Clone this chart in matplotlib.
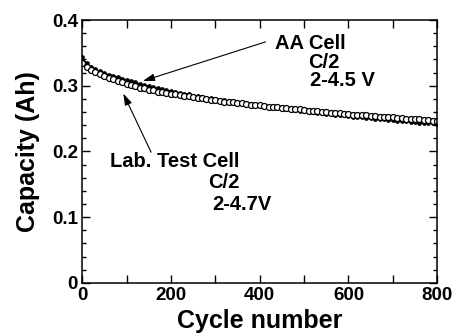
import matplotlib
matplotlib.use("Agg")
import matplotlib.pyplot as plt
from matplotlib.ticker import MultipleLocator, FuncFormatter

plt.rcParams['font.family'] = ['Liberation Sans', 'DejaVu Sans']
plt.rcParams['font.weight'] = 'bold'

cycles = list(range(0, 801, 10))

# AA cell, C/2, 2-4.5 V (filled markers)
aa_cell = [0.343, 0.334, 0.329, 0.325, 0.322, 0.319, 0.317, 0.315, 0.313, 0.311,
           0.309, 0.307, 0.305, 0.303, 0.301, 0.300, 0.298, 0.296, 0.295, 0.293,
           0.292, 0.291, 0.289, 0.288, 0.287, 0.285, 0.284, 0.283, 0.282, 0.281,
           0.280, 0.279, 0.278, 0.277, 0.276, 0.275, 0.274, 0.273, 0.272, 0.271,
           0.270, 0.269, 0.268, 0.267, 0.266, 0.265, 0.265, 0.264, 0.263, 0.262,
           0.261, 0.260, 0.260, 0.259, 0.258, 0.257, 0.257, 0.256, 0.255, 0.255,
           0.254, 0.253, 0.253, 0.252, 0.251, 0.251, 0.250, 0.249, 0.249, 0.248,
           0.248, 0.247, 0.246, 0.246, 0.245, 0.245, 0.244, 0.244, 0.243, 0.243,
           0.242]

# Lab. test cell, C/2, 2-4.7 V (open circles)
lab_cell = [0.334, 0.328, 0.324, 0.321, 0.318, 0.315, 0.312, 0.310, 0.307, 0.305,
            0.303, 0.301, 0.299, 0.297, 0.296, 0.294, 0.293, 0.291, 0.290, 0.289,
            0.288, 0.287, 0.286, 0.285, 0.284, 0.283, 0.282, 0.281, 0.280, 0.279,
            0.278, 0.277, 0.276, 0.275, 0.275, 0.274, 0.273, 0.272, 0.271, 0.271,
            0.270, 0.269, 0.268, 0.268, 0.267, 0.266, 0.266, 0.265, 0.264, 0.264,
            0.263, 0.262, 0.262, 0.261, 0.260, 0.260, 0.259, 0.259, 0.258, 0.257,
            0.257, 0.256, 0.256, 0.255, 0.255, 0.254, 0.254, 0.253, 0.253, 0.252,
            0.252, 0.251, 0.251, 0.250, 0.250, 0.249, 0.249, 0.248, 0.248, 0.247,
            0.247]

fig = plt.figure(figsize=(4.54, 3.34), dpi=100)
ax = fig.add_axes([0.181, 0.153, 0.782, 0.787])

ax.plot(cycles, aa_cell, "-o", color="black", markersize=2.4, linewidth=0.9)
ax.plot(cycles, lab_cell, "o", color="black", markerfacecolor="white",
        markersize=4.3, markeredgewidth=0.9)

ax.set_xlim(0, 800)
ax.set_ylim(0, 0.4)
ax.xaxis.set_major_locator(MultipleLocator(100))
ax.xaxis.set_major_formatter(FuncFormatter(lambda v, p: "%d" % v if int(round(v)) % 200 == 0 else ""))
ax.yaxis.set_major_locator(MultipleLocator(0.1))
ax.yaxis.set_minor_locator(MultipleLocator(0.02))
ax.yaxis.set_major_formatter(FuncFormatter(lambda v, p: "0" if abs(v) < 1e-9 else "%.1f" % v))
ax.tick_params(which="both", direction="in", top=True, right=True, width=1)
ax.tick_params(which="major", length=6, labelsize=13.5, pad=3)
ax.tick_params(which="minor", length=3)
for s in ax.spines.values():
    s.set_linewidth(1.1)

ax.set_xlabel("Cycle number", fontsize=18, fontweight="bold", labelpad=3.5)
ax.set_ylabel("Capacity (Ah)", fontsize=18, fontweight="bold", labelpad=9)

arrow = dict(arrowstyle="-|>,head_length=0.7,head_width=0.22", color="black", lw=0.8)
ax.annotate("", xy=(131, 0.306), xytext=(419, 0.368), arrowprops=arrow)
ax.annotate("", xy=(90, 0.292), xytext=(158, 0.195), arrowprops=arrow)

ax.text(435, 0.364, "AA Cell", fontsize=14.5, fontweight="bold", va="center")
ax.text(509, 0.336, "C/2", fontsize=14.5, fontweight="bold", va="center")
ax.text(514, 0.308, "2-4.5 V", fontsize=14.5, fontweight="bold", va="center")
ax.text(63, 0.184, "Lab. Test Cell", fontsize=14.5, fontweight="bold", va="center")
ax.text(284, 0.153, "C/2", fontsize=14.5, fontweight="bold", va="center")
ax.text(293, 0.119, "2-4.7V", fontsize=14.5, fontweight="bold", va="center")

fig.savefig("out.png", dpi=100)
